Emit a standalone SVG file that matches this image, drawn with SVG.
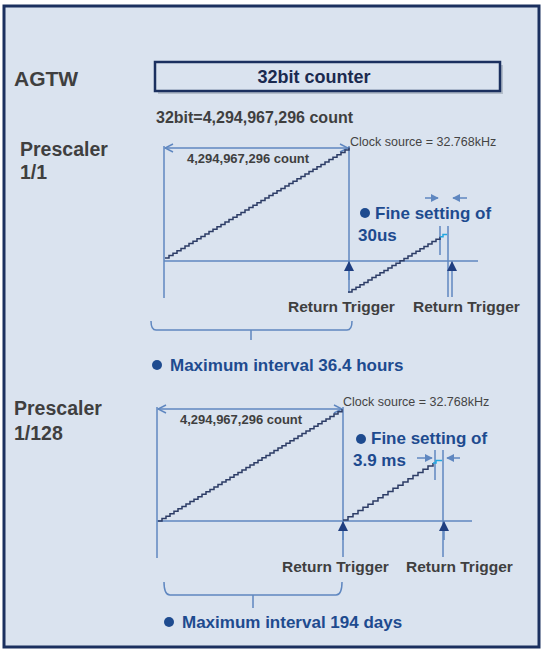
<svg xmlns="http://www.w3.org/2000/svg" width="545" height="654" viewBox="0 0 545 654">
<defs>
<style>
.frame{fill:#dae3ef;stroke:#1b305f;stroke-width:3}
.ln{fill:none;stroke:#5f87c0;stroke-width:1.5}
.stair{fill:none;stroke:#2c3c66;stroke-width:1.5}
.cyan{fill:none;stroke:#22a6e0;stroke-width:1.5}
.gt{font-family:"Liberation Sans",Arial,sans-serif;font-weight:bold;fill:#3f3f3f}
.bt{font-family:"Liberation Sans",Arial,sans-serif;font-weight:bold;fill:#1e4b8f}
.nt{font-family:"Liberation Sans",Arial,sans-serif;fill:#444444}
</style>
<marker id="chev" viewBox="0 0 10 10" refX="9" refY="5" markerWidth="10" markerHeight="10" markerUnits="userSpaceOnUse" orient="auto-start-reverse">
<path d="M1,1 L9,5 L1,9" fill="none" stroke="#5f87c0" stroke-width="1.5"/>
</marker>
<marker id="tri" viewBox="0 0 10 10" refX="9" refY="5" markerWidth="11" markerHeight="10" markerUnits="userSpaceOnUse" orient="auto">
<path d="M0,0 L10,5 L0,10 Z" fill="#1f3e80"/>
</marker>
<marker id="tris" viewBox="0 0 10 10" refX="9" refY="5" markerWidth="8" markerHeight="8" markerUnits="userSpaceOnUse" orient="auto">
<path d="M0,0 L10,5 L0,10 Z" fill="#5f87c0"/>
</marker>
</defs>

<rect class="frame" x="4" y="6" width="535" height="641"/>

<g id="title">
<text class="gt" x="14" y="86" font-size="21">AGTW</text>
</g>
<g id="counter-box">
<rect x="158" y="65" width="345" height="29" fill="#9aa3b0" opacity="0.6"/>
<rect x="155" y="62" width="345" height="29" fill="#dae3ef" stroke="#1b305f" stroke-width="2.5"/>
<text x="314" y="83" text-anchor="middle" font-family="Liberation Sans, Arial, sans-serif" font-weight="bold" font-size="18" fill="#1b2a4f">32bit counter</text>
</g>
<g id="count-note">
<text class="gt" x="156" y="123" font-size="16">32bit=4,294,967,296 count</text>
</g>

<g id="prescaler1-label">
<text class="gt" x="20" y="156" font-size="19.5">Prescaler</text>
<text class="gt" x="20" y="179" font-size="19.5">1/1</text>
</g>
<g id="prescaler128-label">
<text class="gt" x="14" y="415" font-size="19.5">Prescaler</text>
<text class="gt" x="14" y="440" font-size="19.5">1/128</text>
</g>

<g id="connectors">
<!-- section 1 -->
<line class="ln" x1="164" y1="261" x2="478" y2="261"/>
<line class="ln" x1="164" y1="146" x2="164" y2="298"/>
<line class="ln" x1="349" y1="146" x2="349" y2="293"/>
<line class="ln" x1="165" y1="148" x2="348" y2="148" marker-start="url(#chev)" marker-end="url(#chev)"/>
<line class="ln" x1="440" y1="226" x2="440" y2="255"/>
<line class="ln" x1="448" y1="226" x2="448" y2="297"/>
<line class="ln" x1="452" y1="297" x2="452" y2="262" marker-end="url(#tri)"/>
<line class="ln" x1="349" y1="280" x2="349" y2="262" marker-end="url(#tri)"/>
<line class="ln" x1="425" y1="198" x2="438" y2="198" marker-end="url(#tris)"/>
<line class="ln" x1="467" y1="198" x2="453" y2="198" marker-end="url(#tris)"/>
<path class="ln" d="M151,321 Q151,330 156,330 H347 Q352,330 352,321 M251,330 V340"/>
<path class="stair" d="M165,258h4v-2.4h4v-2.4h4v-2.4h4v-2.4h4v-2.4h4v-2.4h4v-2.4h4v-2.4h4v-2.4h4v-2.4h4v-2.4h4v-2.4h4v-2.4h4v-2.4h4v-2.4h4v-2.4h4v-2.4h4v-2.4h4v-2.4h4v-2.4h4v-2.4h4v-2.4h4v-2.4h4v-2.4h4v-2.4h4v-2.4h4v-2.4h4v-2.4h4v-2.4h4v-2.4h4v-2.4h4v-2.4h4v-2.4h4v-2.4h4v-2.4h4v-2.4h4v-2.4h4v-2.4h4v-2.4h4v-2.4h4v-2.4h4v-2.4h4v-2.4h4v-2.4h4v-2.4h4v-2.4"/>
<path class="stair" d="M348,292h4v-2.4h4v-2.4h4v-2.4h4v-2.4h4v-2.4h4v-2.4h4v-2.4h4v-2.4h4v-2.4h4v-2.4h4v-2.4h4v-2.4h4v-2.4h4v-2.4h4v-2.4h4v-2.4h4v-2.4h4v-2.4h4v-2.4h4v-2.4h4v-2.4h4v-2.4h4v-2.4"/>
<path class="cyan" d="M440,236.8h3v-2.4h4"/>
<!-- section 2 -->
<line class="ln" x1="157" y1="521" x2="472" y2="521"/>
<line class="ln" x1="157" y1="407" x2="157" y2="558"/>
<line class="ln" x1="343" y1="407" x2="343" y2="557"/>
<line class="ln" x1="158" y1="409" x2="342" y2="409" marker-start="url(#chev)" marker-end="url(#chev)"/>
<line class="ln" x1="435" y1="450" x2="435" y2="480"/>
<line class="ln" x1="443" y1="450" x2="443" y2="557"/>
<line class="ln" x1="444" y1="540" x2="444" y2="522" marker-end="url(#tri)"/>
<line class="ln" x1="343" y1="540" x2="343" y2="522" marker-end="url(#tri)"/>
<line class="ln" x1="417" y1="458" x2="432" y2="458" marker-end="url(#tris)"/>
<line class="ln" x1="460" y1="458" x2="447" y2="458" marker-end="url(#tris)"/>
<path class="ln" d="M164,582 Q164,595 170,595 H336 Q342,595 342,582 M253,595 V608"/>
<path class="stair" d="M158,521h4v-2.43h4v-2.43h4v-2.43h4v-2.43h4v-2.43h4v-2.43h4v-2.43h4v-2.43h4v-2.43h4v-2.43h4v-2.43h4v-2.43h4v-2.43h4v-2.43h4v-2.43h4v-2.43h4v-2.43h4v-2.43h4v-2.43h4v-2.43h4v-2.43h4v-2.43h4v-2.43h4v-2.43h4v-2.43h4v-2.43h4v-2.43h4v-2.43h4v-2.43h4v-2.43h4v-2.43h4v-2.43h4v-2.43h4v-2.43h4v-2.43h4v-2.43h4v-2.43h4v-2.43h4v-2.43h4v-2.43h4v-2.43h4v-2.43h4v-2.43h4v-2.43h4v-2.43h4v-2.43"/>
<path class="stair" d="M343,520h5v-3.17h5v-3.17h5v-3.17h5v-3.17h5v-3.17h5v-3.17h5v-3.17h5v-3.17h5v-3.17h5v-3.17h5v-3.17h5v-3.17h5v-3.17h5v-3.17h5v-3.17h5v-3.17h5v-3.17h5v-3.17"/>
<path class="cyan" d="M433,462.9h3v-2.4h6"/>
</g>

<g id="section1-texts">
<text class="gt" x="187" y="163" font-size="13">4,294,967,296 count</text>
<text class="nt" x="350" y="146" font-size="12.5">Clock source = 32.768kHz</text>
<circle cx="365" cy="213" r="5" fill="#1e4b8f"/>
<text class="bt" x="375" y="219" font-size="17">Fine setting of</text>
<text class="bt" x="358" y="241" font-size="17">30us</text>
<text class="gt" x="288" y="312" font-size="15.5">Return Trigger</text>
<text class="gt" x="413" y="312" font-size="15.5">Return Trigger</text>
<circle cx="157" cy="365" r="5" fill="#1e4b8f"/>
<text class="bt" x="170" y="371" font-size="17">Maximum interval 36.4 hours</text>
</g>

<g id="section2-texts">
<text class="gt" x="180" y="424" font-size="13">4,294,967,296 count</text>
<text class="nt" x="343" y="406" font-size="12.5">Clock source = 32.768kHz</text>
<circle cx="361" cy="439" r="5" fill="#1e4b8f"/>
<text class="bt" x="371" y="444" font-size="17">Fine setting of</text>
<text class="bt" x="353" y="466" font-size="17">3.9 ms</text>
<text class="gt" x="282" y="572" font-size="15.5">Return Trigger</text>
<text class="gt" x="406" y="572" font-size="15.5">Return Trigger</text>
<circle cx="169" cy="622" r="5" fill="#1e4b8f"/>
<text class="bt" x="182" y="628" font-size="17">Maximum interval 194 days</text>
</g>
</svg>
